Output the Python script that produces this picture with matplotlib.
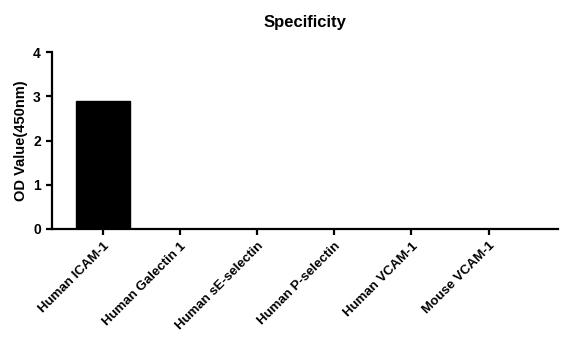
import matplotlib.pyplot as plt

categories = ['Human ICAM-1', 'Human Galectin 1', 'Human sE-selectin',
              'Human P-selectin', 'Human VCAM-1', 'Mouse VCAM-1']
values = [2.9, 0.0, 0.0, 0.0, 0.0, 0.0]

plt.rcParams['font.family'] = ['Liberation Sans', 'DejaVu Sans']
plt.rcParams['font.weight'] = 'bold'

fig = plt.figure(figsize=(5.66, 3.5), dpi=100)
ax = fig.add_axes([52 / 566, 121 / 350, 506 / 566, 177 / 350])

x = range(len(categories))
ax.bar(x, values, width=0.69, color='black', edgecolor='black')

ax.set_xlim(-0.66, 5.9)
ax.set_ylim(0, 4)
ax.set_yticks([0, 1, 2, 3, 4])
ax.set_xticks(list(x))
ax.set_xticklabels(categories, rotation=45, ha='right', rotation_mode='anchor',
                   fontsize=9.5, fontweight='bold')
ax.tick_params(axis='y', labelsize=10)
for lab in ax.get_yticklabels():
    lab.set_fontweight('bold')

ax.spines['top'].set_visible(False)
ax.spines['right'].set_visible(False)
ax.spines['left'].set_linewidth(1.6)
ax.spines['bottom'].set_linewidth(1.6)
ax.tick_params(width=1.6, length=4.5)

ax.set_ylabel('OD Value(450nm)', fontsize=10.5, fontweight='bold')
fig.text(305 / 566, 1 - 22 / 350, 'Specificity', ha='center', va='center',
         fontsize=12, fontweight='bold')

fig.savefig('out.png', dpi=100)
